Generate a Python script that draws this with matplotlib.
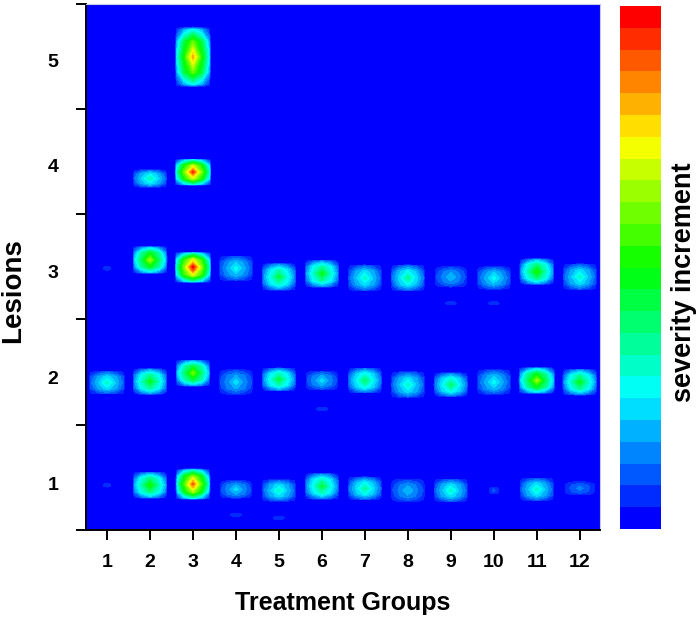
import colorsys
import numpy as np
import matplotlib
matplotlib.use('Agg')
import matplotlib.pyplot as plt

plt.rcParams['font.family'] = ['Liberation Sans', 'DejaVu Sans']

groups = [1, 2, 3, 4, 5, 6, 7, 8, 9, 10, 11, 12]
lesions = [1, 2, 3, 4, 5]

# severity at the middle of each spot, 0 = blue .. 23 = red
peak_1 = [1.5, 12, 21, 5, 7, 10, 8, 4.5, 7, 2, 7, 3]
peak_2 = [7, 11, 14, 5, 10, 5, 9, 7, 9, 6, 15, 11]
peak_3 = [1.5, 15, 23, 6, 10, 11, 7, 8, 4.5, 6, 12, 7]
peak_4 = [0, 7.5, 22, 0, 0, 0, 0, 0, 0, 0, 0, 0]
peak_5 = [0, 0, 19, 0, 0, 0, 0, 0, 0, 0, 0, 0]

# where the spot sits on the lesion axis
mid_1 = [.98, .98, .99, .94, .93, .97, .95, .93, .93, .93, .94, .95]
mid_2 = [1.95, 1.96, 2.04, 1.955, 1.98, 1.97, 1.97, 1.93, 1.93, 1.955, 1.97, 1.955]
mid_3 = [3.03, 3.11, 3.04, 3.03, 2.95, 2.98, 2.94, 2.94, 2.95, 2.94, 3.0, 2.95]
mid_4 = [4, 3.88, 3.94, 4, 4, 4, 4, 4, 4, 4, 4, 4]
mid_5 = [5, 5, 5.03, 5, 5, 5, 5, 5, 5, 5, 5, 5]

# half height of the spot, lesion units
tall_1 = [.02, .125, .145, .085, .105, .125, .11, .11, .11, .035, .11, .065]
tall_2 = [.11, .125, .125, .12, .11, .09, .12, .125, .115, .12, .125, .125]
tall_3 = [.02, .13, .145, .12, .13, .13, .125, .125, .10, .11, .125, .125]
tall_4 = [0, .085, .125, 0, 0, 0, 0, 0, 0, 0, 0, 0]
tall_5 = [0, 0, .285, 0, 0, 0, 0, 0, 0, 0, 0, 0]

# half width of the spot, group units
wide_1 = [.1, .4, .4, .38, .4, .4, .4, .4, .4, .12, .4, .36]
wide_2 = [.42, .4, .4, .4, .4, .38, .4, .4, .4, .4, .42, .4]
wide_3 = [.1, .4, .42, .4, .4, .4, .4, .4, .38, .4, .4, .4]
wide_4 = [0, .4, .42, 0, 0, 0, 0, 0, 0, 0, 0, 0]
wide_5 = [0, 0, .41, 0, 0, 0, 0, 0, 0, 0, 0, 0]

# tiny streaks under some of the spots
faint_group = [4, 5, 6, 9, 10]
faint_lesion = [.70, .67, 1.70, 2.70, 2.70]

# shape of one spot, fraction of its peak
shape_at = [-1, -.9, -.5, 0, .5, .9, 1]
shape = np.array([
    [0, 0, 0, 0, 0, 0, 0],
    [0, .05, .2, .32, .2, .05, 0],
    [0, .22, .52, .72, .52, .22, 0],
    [0, .32, .62, 1, .62, .32, 0],
    [0, .22, .52, .72, .52, .22, 0],
    [0, .05, .2, .32, .2, .05, 0],
    [0, 0, 0, 0, 0, 0, 0],
])

n_bins = 24
bin_colors = [colorsys.hsv_to_rgb((240 / 360) * (1 - i / (n_bins - 1)), 1, 1) for i in range(n_bins)]
levels = np.arange(n_bins + 1) - 0.5


def axes_px(fig, left, top, right, bottom):
    w, h = fig.get_size_inches() * fig.dpi
    return fig.add_axes([left / w, 1 - bottom / h, (right - left) / w, (bottom - top) / h])


def draw_spot(ax, g, y, half_w, half_h, peak):
    xs = g + np.array(shape_at) * half_w
    ys = y + np.array(shape_at) * half_h
    ax.contourf(xs, ys, shape * peak, levels=levels, colors=bin_colors, extend='neither')


fig = plt.figure(figsize=(7.0, 6.21), dpi=100)
ax = axes_px(fig, 86, 4, 600, 530)
ax.set_facecolor(bin_colors[0])

rows = [
    (peak_1, mid_1, tall_1, wide_1),
    (peak_2, mid_2, tall_2, wide_2),
    (peak_3, mid_3, tall_3, wide_3),
    (peak_4, mid_4, tall_4, wide_4),
    (peak_5, mid_5, tall_5, wide_5),
]
for peaks, mids, talls, wides in rows:
    for g, p, m, t, w in zip(groups, peaks, mids, talls, wides):
        if p > 0:
            draw_spot(ax, g, m, w, t, p)

for g, y in zip(faint_group, faint_lesion):
    draw_spot(ax, g, y, .14, .018, 1.5)

ax.set_xlim(0.51, 12.47)
ax.set_ylim(0.556, 5.53)

ax.set_xticks(groups)
ax.set_xticklabels(groups, fontsize=14, fontweight='bold')
ax.set_yticks(lesions)
ax.set_yticklabels(lesions, fontsize=14, fontweight='bold')
ax.set_yticks([0.556, 1.548, 2.55, 3.54, 4.54, 5.53], minor=True)
ax.tick_params(axis='x', length=7, width=1.4, pad=10)
ax.tick_params(axis='y', which='major', length=0, pad=20)
ax.tick_params(axis='y', which='minor', length=7, width=1.4)

ax.spines['left'].set_linewidth(1.4)
ax.spines['bottom'].set_linewidth(1.4)
ax.spines['top'].set_color('#c8c8e8')
ax.spines['right'].set_color('#c8c8e8')
ax.spines['top'].set_linewidth(0.8)
ax.spines['right'].set_linewidth(0.8)

fig.text(343 / 700, 1 - 603 / 621, 'Treatment Groups', fontsize=18, fontweight='bold',
         ha='center', va='center')
fig.text(13 / 700, 1 - 291 / 621, 'Lesions', fontsize=20, fontweight='bold',
         rotation=90, ha='center', va='center')

# colour key
cax = axes_px(fig, 620, 6, 661, 529)
for i, c in enumerate(bin_colors):
    cax.axhspan(i, i + 1, color=c, lw=0)
cax.set_xlim(0, 1)
cax.set_ylim(0, n_bins)
cax.axis('off')
fig.text(684 / 700, 1 - 282 / 621, 'severity increment', fontsize=19.5, fontweight='bold',
         rotation=90, ha='center', va='center')

fig.savefig('out.png', dpi=100)
